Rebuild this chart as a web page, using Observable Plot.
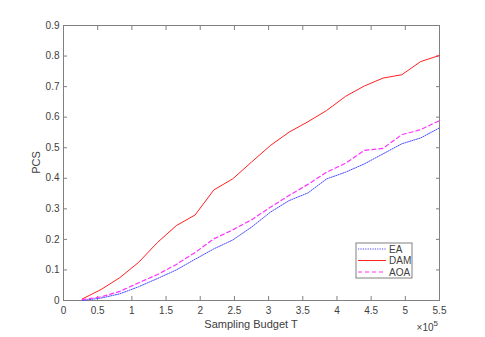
<!DOCTYPE html>
<html><head><meta charset="utf-8">
<script src="https://cdn.jsdelivr.net/npm/d3@7"></script>
<script src="https://cdn.jsdelivr.net/npm/@observablehq/plot@0.6"></script>
<style>
body{margin:0;background:#fff}
#chart{position:relative;width:485px;height:337px}
svg{font-family:"Liberation Sans",Arial,sans-serif}
</style>
</head><body><div id="chart"></div>
<script>
const budget = [0.275,0.55,0.825,1.1,1.375,1.65,1.925,2.2,2.475,2.75,3.025,3.3,3.575,3.85,4.125,4.4,4.675,4.95,5.225,5.5];
const ea  = [0.000,0.008,0.022,0.045,0.072,0.100,0.135,0.169,0.198,0.240,0.289,0.327,0.352,0.398,0.420,0.447,0.480,0.513,0.532,0.565];
const dam = [0.005,0.036,0.075,0.125,0.190,0.245,0.280,0.362,0.398,0.453,0.507,0.551,0.585,0.622,0.668,0.702,0.728,0.739,0.782,0.802];
const aoa = [0.003,0.012,0.030,0.058,0.085,0.118,0.157,0.202,0.231,0.264,0.305,0.344,0.380,0.420,0.449,0.491,0.498,0.543,0.559,0.589];
const seriesNames = ["EA","DAM","AOA"];
const seriesColors = ["#4a4aff","#ff2020","#ff30ff"];
const seriesDash = ["1.2,1.2","none","4,3"];
const seriesWidth = [1,1,1.2];
const xTicks = [0,0.5,1,1.5,2,2.5,3,3.5,4,4.5,5,5.5];
const yTicks = [0,0.1,0.2,0.3,0.4,0.5,0.6,0.7,0.8,0.9];
const xLabel = "Sampling Budget T";
const yLabel = "PCS";

(function () {
const values = [ea, dam, aoa];
const rows = [];
seriesNames.forEach((s, i) => budget.forEach((b, j) => rows.push({series: s, x: b, y: values[i][j]})));

const fmt = d => String(+d.toFixed(1));
const axisColor = "#808080";
const textColor = "#404040";

const marks = [
  Plot.frame({stroke: axisColor, strokeWidth: 1}),
  Plot.axisX(xTicks, {anchor: "bottom", tickSize: -4, tickPadding: 10, tickFormat: fmt, stroke: axisColor, color: textColor, fontSize: 10, label: null}),
  Plot.axisX(xTicks, {anchor: "top", tickSize: -4, tickFormat: () => "", stroke: axisColor, label: null}),
  Plot.axisY(yTicks, {anchor: "left", tickSize: -4, tickPadding: 8, tickFormat: fmt, stroke: axisColor, color: textColor, fontSize: 10, label: null}),
  Plot.axisY(yTicks, {anchor: "right", tickSize: -4, tickFormat: () => "", stroke: axisColor, label: null})
];
seriesNames.forEach((s, i) => {
  marks.push(Plot.line(rows.filter(r => r.series === s), {
    x: "x", y: "y", stroke: seriesColors[i], strokeWidth: seriesWidth[i],
    strokeDasharray: seriesDash[i] === "none" ? null : seriesDash[i]
  }));
});

const plot = Plot.plot({
  width: 485, height: 337,
  marginLeft: 63, marginRight: 46, marginTop: 25, marginBottom: 37,
  x: {domain: [0, 5.5]},
  y: {domain: [0, 0.9]},
  style: {fontFamily: '"Liberation Sans", Arial, sans-serif', background: "#fff"},
  marks
});
document.getElementById("chart").appendChild(plot);

const svg = d3.select(plot);
const pLeft = 63, pRight = 485 - 46, pTop = 25, pBottom = 337 - 37;

svg.append("text").attr("x", (pLeft + pRight) / 2).attr("y", 328)
  .attr("text-anchor", "middle").attr("font-size", 11).attr("fill", textColor).text(xLabel);
svg.append("text").attr("transform", `translate(40,${(pTop + pBottom) / 2}) rotate(-90)`)
  .attr("text-anchor", "middle").attr("font-size", 11).attr("fill", textColor).text(yLabel);
const ex = svg.append("text").attr("x", pRight - 1).attr("y", 331).attr("text-anchor", "end")
  .attr("font-size", 10).attr("fill", textColor);
ex.append("tspan").text("\u00d710");
ex.append("tspan").attr("font-size", 8).attr("dy", -5).text("5");

const lg = svg.append("g").attr("transform", "translate(356,243)");
lg.append("rect").attr("width", 56).attr("height", 35).attr("fill", "#fff").attr("stroke", axisColor);
seriesNames.forEach((s, i) => {
  const yy = 6 + i * 11.5;
  lg.append("line").attr("x1", 2).attr("x2", 30).attr("y1", yy).attr("y2", yy)
    .attr("stroke", seriesColors[i]).attr("stroke-width", seriesWidth[i])
    .attr("stroke-dasharray", seriesDash[i] === "none" ? null : seriesDash[i]);
  lg.append("text").attr("x", 33).attr("y", yy).attr("dy", "0.35em")
    .attr("text-anchor", "start")
    .attr("font-size", 10).attr("fill", textColor).text(s);
});
})();
</script>
</body></html>
